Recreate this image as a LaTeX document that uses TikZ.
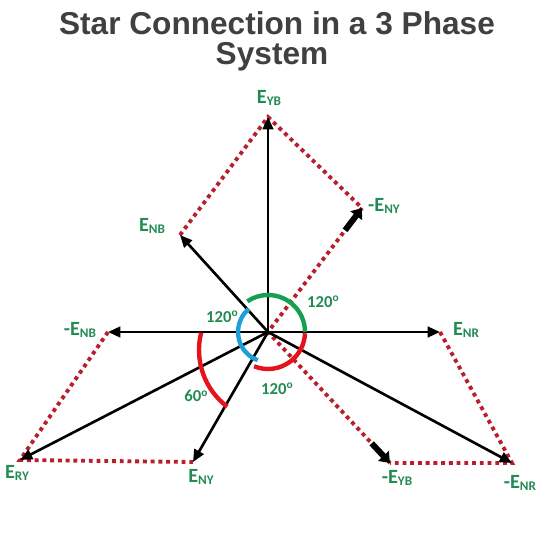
\documentclass[tikz,border=0pt]{standalone}
\usepackage{fontspec}
\setmainfont{Liberation Sans}
\newfontfamily\lblfont{Carlito}
\usetikzlibrary{arrows.meta, calc}

\definecolor{lblgreen}{RGB}{34,139,84}
\definecolor{dotred}{RGB}{185,30,45}
\definecolor{arcgreen}{RGB}{20,160,80}
\definecolor{arcblue}{RGB}{30,160,215}
\definecolor{arcred}{RGB}{228,20,30}
\definecolor{titlegray}{RGB}{64,64,64}

\newcommand{\Ephase}[1]{E\raisebox{-0.8pt}{\fontsize{7.5}{8}\selectfont #1}}
\newcommand{\degr}[1]{#1\raisebox{3.2pt}{\fontsize{6.5}{7}\selectfont o}}

\begin{document}
\begin{tikzpicture}[x=0.02cm, y=0.02cm,
    vec/.style={line width=1.5pt, -{Triangle[length=7pt, width=6pt]}},
    fatvec/.style={line width=3.4pt, -{Triangle[length=5.5pt, width=8pt]}},
    dots/.style={dotred, line width=2.2pt, dash pattern=on 2.2pt off 2.2pt},
    arcline/.style={line width=2.5pt},
    lbl/.style={text=lblgreen, font=\lblfont\bfseries\fontsize{11.5}{12}\selectfont, inner sep=0pt},
    deg/.style={text=lblgreen, font=\lblfont\bfseries\fontsize{9.5}{10}\selectfont, inner sep=0pt},
    title/.style={text=titlegray, font=\bfseries\fontsize{18}{20}\selectfont, anchor=base, inner sep=0pt}]
    \useasboundingbox (-268,-218) rectangle (282,332);

    % Title
    \node[title] (ttl1) at (9, 297) {Star Connection in a 3 Phase};
    \node[title] (ttl2) at (4, 267) {System};

    % Star point and vector ends
    \coordinate (O) at (0, 0);
    \coordinate (YB) at (0, 215);
    \coordinate (NB) at (-88, 97);
    \coordinate (mNY) at (94, 124);
    \coordinate (mNB) at (-160, 0);
    \coordinate (NR) at (172, 0);
    \coordinate (RY) at (-248, -128);
    \coordinate (NY) at (-75, -130);
    \coordinate (mYB) at (122, -131);
    \coordinate (mNR) at (244, -131);

    % Parallelogram sides
    \draw[dots] (NB) -- (YB) -- (mNY);
    \draw[dots] (mNB) -- (RY) -- (NY);
    \draw[dots] (NR) -- (mNR) -- (mYB);
    \draw[dots] (mNY) -- (O) -- (mYB);

    % Phase vectors
    \draw[vec] (O) -- (YB);
    \draw[vec] (O) -- (NB);
    \draw[vec] (O) -- (mNB);
    \draw[vec] (O) -- (NR);
    \draw[vec] (O) -- (RY);
    \draw[vec] (O) -- (NY);
    \draw[vec] (O) -- (mNR);
    \draw[fatvec] ($(O)!0.82!(mNY)$) -- (mNY);
    \draw[fatvec] ($(O)!0.85!(mYB)$) -- (mYB);

    % Angle arcs
    \draw[arcline, arcgreen] ([shift={(0:37)}]O) arc[start angle=0, end angle=124, radius=37];
    \draw[arcline, arcblue] ([shift={(130:30)}]O) arc[start angle=130, end angle=250, radius=30];
    \draw[arcline, arcred] ([shift={(248:37)}]O) arc[start angle=248, end angle=358, radius=37];
    \draw[arcline, arcred] ([shift={(166:71)}]2,-18) arc[start angle=166, end angle=233, radius=71];

    % Labels
    \node[lbl] (lYB) at (1, 234) {\Ephase{YB}};
    \node[lbl] (lNB) at (-116, 106) {\Ephase{NB}};
    \node[lbl] (lmNY) at (116, 126) {-\Ephase{NY}};
    \node[lbl] (lmNB) at (-188, 2) {-\Ephase{NB}};
    \node[lbl] (lNR) at (198, 2) {\Ephase{NR}};
    \node[lbl] (lRY) at (-251, -141) {\Ephase{RY}};
    \node[lbl] (lNY) at (-67, -145) {\Ephase{NY}};
    \node[lbl] (lmYB) at (129, -146) {-\Ephase{YB}};
    \node[lbl] (lmNR) at (252, -151) {-\Ephase{NR}};
    \node[deg] (dA) at (55, 30) {\degr{120}};
    \node[deg] (dB) at (-46, 15) {\degr{120}};
    \node[deg] (dC) at (9, -57) {\degr{120}};
    \node[deg] (dD) at (-72, -64) {\degr{60}};
\end{tikzpicture}
\end{document}
